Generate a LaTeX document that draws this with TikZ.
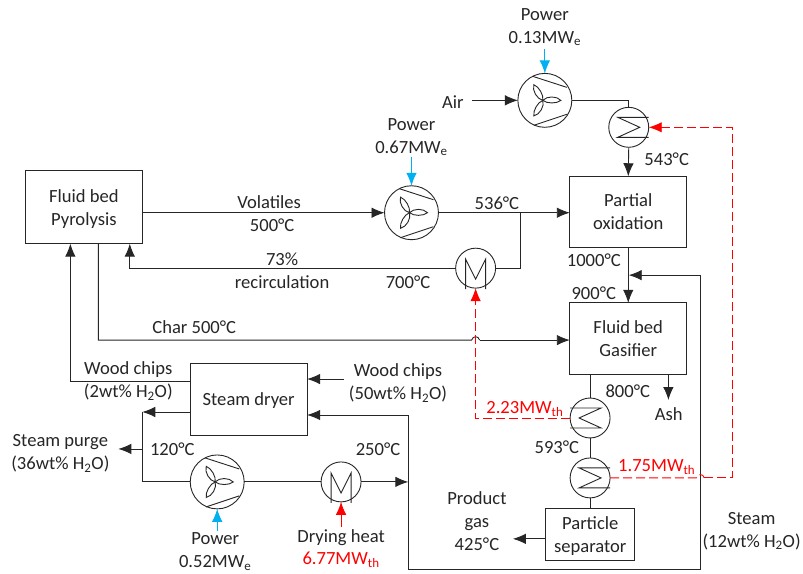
\documentclass[tikz,border=0pt]{standalone}
\usepackage{fontspec}
\setmainfont{Carlito}
\usetikzlibrary{arrows.meta}
\definecolor{pblue}{HTML}{00B0F0}
\newcommand{\ptext}[1]{\raisebox{-2pt}[\height][\depth]{\begin{tabular}{@{}c@{}}#1\end{tabular}}}
\tikzset{
  x=1pt,y=-1pt,
  every path/.style={line width=0.9pt,draw=black!85},
  lab/.style={inner sep=0pt,outer sep=0pt,align=center,yshift=-1.3pt,font=\fontsize{18.6}{23}\selectfont,text=black!85},
  redlab/.style={lab,text=red},
  proc/.style={draw,rectangle,inner sep=0pt,outer sep=0pt,font=\fontsize{18.6}{23}\selectfont,text=black!85},
  sym/.style={draw,circle,inner sep=0pt,outer sep=0pt},
  comp/.style={sym,minimum size=54pt},
  hx/.style={sym,minimum size=40pt},
  ar/.style={-{Latex[length=13pt,width=10.5pt]}},
  blueline/.style={ar,draw=pblue,color=pblue},
  redline/.style={ar,draw=red,color=red},
  reddash/.style={ar,draw=red,color=red,dash pattern=on 9pt off 4pt},
  reddashplain/.style={draw=red,dash pattern=on 9pt off 4pt},
}
\newcommand{\fanmark}[1]{%
  \begin{scope}[shift={(#1.center)}]
    \draw (-12,-24) -- (22,-13);
    \draw (-11,25) -- (22,14);
    \foreach \r in {0,120,240}{
      \draw[rotate around={\r:(-2,0)}] (-2,0) .. controls (2,-4.5) and (12,-4.5) .. (16,0) .. controls (12,3.5) and (2,3.5) .. (-2,0);
    }
  \end{scope}}
\newcommand{\mmark}[1]{%
  \begin{scope}[shift={(#1.center)}]
    \draw (-10,21) -- (-10,-9) -- (0,11) -- (10,-9) -- (10,21);
  \end{scope}}
\newcommand{\sumright}[1]{%
  \begin{scope}[shift={(#1.center)}]
    \draw (20,-10) -- (-11,-10) -- (11,0) -- (-11,10) -- (20,10);
  \end{scope}}
\newcommand{\sumleft}[1]{%
  \begin{scope}[shift={(#1.center)}]
    \draw (-20,-10) -- (11,-10) -- (-11,0) -- (11,10) -- (-20,10);
  \end{scope}}
\begin{document}
\begin{tikzpicture}
\useasboundingbox (0,0) rectangle (803,573);
\fill[white] (0,0) rectangle (803,573);
% process boxes
\node[proc,minimum width=117pt,minimum height=73pt] (pyro) at (83.5,207) {\ptext{Fluid bed\\Pyrolysis}};
\node[proc,minimum width=117pt,minimum height=71pt] (pox) at (628.5,211.5) {\ptext{Partial\\oxidation}};
\node[proc,minimum width=117pt,minimum height=71.5pt] (gas) at (628.5,338.5) {\ptext{Fluid bed\\Gasifier}};
\node[proc,minimum width=89pt,minimum height=52pt] (sep) at (590.5,535) {\ptext{Particle\\separator}};
\node[proc,minimum width=117pt,minimum height=72pt] (dry) at (248.5,399) {\ptext{Steam dryer}};
% machines
\node[comp] (c1) at (545,100) {};
\node[comp] (c2) at (411.5,212.5) {};
\node[comp] (c3) at (217,482) {};
\node[hx] (h1) at (629,127) {};
\node[hx] (h2) at (475.7,268) {};
\node[hx] (h3) at (341,482) {};
\node[hx] (h4) at (590.3,418) {};
\node[hx] (h5) at (590.3,478) {};
\fanmark{c1}\fanmark{c2}\fanmark{c3}
\mmark{h2}\mmark{h3}
\sumright{h1}\sumright{h5}\sumleft{h4}
% free ends and corners
\coordinate (airs) at (472,100);
\coordinate (b1) at (545,49);
\coordinate (b2) at (411.5,157);
\coordinate (b3) at (217,531);
\coordinate (r3) at (341,527);
\coordinate (j1) at (521,212.5);
\coordinate (j1b) at (521,268);
\coordinate (k1) at (129.5,268);
\coordinate (k2) at (129.5,243.5);
\coordinate (w1) at (190,381);
\coordinate (w2) at (70,381);
\coordinate (w3) at (70,243.5);
\coordinate (ch1) at (98,243.5);
\coordinate (ch2) at (98,340);
\coordinate (ch3) at (471.7,340);
\coordinate (ch4) at (479.7,340);
\coordinate (ch5) at (570,340);
\coordinate (ws) at (344,379);
\coordinate (wd) at (307,379);
\coordinate (d1) at (190,412);
\coordinate (d2) at (142,412);
\coordinate (d3) at (142,482);
\coordinate (pu1) at (142,449);
\coordinate (pu2) at (118,449);
\coordinate (s1) at (408.3,482);
\coordinate (s2) at (408.3,415);
\coordinate (s3) at (307,415);
\coordinate (s4) at (408.3,570);
\coordinate (s5) at (700.7,570);
\coordinate (s6) at (700.7,275);
\coordinate (s7) at (629,275);
\coordinate (as1) at (668.7,374.2);
\coordinate (as2) at (668.7,400);
\coordinate (pg) at (513,539);
\coordinate (sp) at (546,539);
\coordinate (e1) at (629,100);
\coordinate (r1) at (475.7,418);
\coordinate (r2) at (696.7,478);
\coordinate (r2b) at (704.7,478);
\coordinate (r4) at (733,478);
\coordinate (r5) at (733,127);
% black connectors
\draw[ar] (airs) -- (c1.west);
\draw (c1.east) -- (e1) -- (h1.north);
\draw[ar] (h1.south) -- (pox.north);
\draw[ar] (pyro.east |- c2.west) -- (c2.west);
\draw[ar] (c2.east) -- (pox.west |- c2.east);
\draw (j1) -- (j1b) -- (h2.east);
\draw[ar] (h2.west) -- (k1) -- (k2);
\draw[ar] (pox.south) -- (gas.north);
\draw[ar] (w1) -- (w2) -- (w3);
\draw (ch1) -- (ch2) -- (ch3) .. controls (473,335.5) and (478.4,335.5) .. (ch4);
\draw[ar] (ch4) -- (ch5);
\draw[ar] (ws) -- (wd);
\draw[ar] (d1) -- (d2);
\draw (d2) -- (d3) -- (c3.west);
\draw[ar] (pu1) -- (pu2);
\draw (c3.east) -- (h3.west);
\draw[ar] (h3.east) -- (s1);
\draw[ar] (s4) -- (s2) -- (s3);
\draw[ar] (s4) -- (s5) -- (s6) -- (s7);
\draw (gas.south -| h4.north) -- (h4.north);
\draw (h4.south) -- (h5.north);
\draw (h5.south) -- (sep.north -| h5.south);
\draw[ar] (as1) -- (as2);
\draw[ar] (sp) -- (pg);
% power
\draw[blueline] (b1) -- (c1.north);
\draw[blueline] (b2) -- (c2.north);
\draw[blueline] (b3) -- (c3.south);
% heat
\draw[redline] (r3) -- (h3.south);
\draw[reddash] (h4.west) -- (r1) -- (h2.south);
\draw[reddashplain] (h5.east) -- (r2) .. controls (698,473.5) and (703.4,473.5) .. (r2b);
\draw[reddash] (r2b) -- (r4) -- (r5) -- (h1.east);
% labels
\node[lab] (t1) at (545,25.5) {Power\\0.13MW\textsubscript{e}};
\node[lab] (t2) at (453,100) {Air};
\node[lab] (t3) at (667,158) {543°C};
\node[lab] (t4) at (411.5,135.5) {Power\\0.67MW\textsubscript{e}};
\node[lab] (t5) at (497,202) {536°C};
\node[lab] (t6) at (594,259) {1000°C};
\node[lab] (t7) at (594,292) {900°C};
\node[lab] (t8) at (628,390) {800°C};
\node[lab] (t9) at (669,413) {Ash};
\node[redlab] (t10) at (525,408) {2.23MW\textsubscript{th}};
\node[lab] (t11) at (557,446) {593°C};
\node[redlab] (t12) at (657,466) {1.75MW\textsubscript{th}};
\node[lab] (t13) at (477,519.5) {Product\\gas\\425°C};
\node[lab] (t14) at (752,530) {Steam\\(12wt\% H\textsubscript{2}O)};
\node[lab] (t15) at (269,201) {Volatiles};
\node[lab] (t16) at (272,224) {500°C};
\node[lab] (t17) at (282,269.5) {73\%\\recirculation};
\node[lab] (t18) at (408,281) {700°C};
\node[lab] (t19) at (194,326) {Char 500°C};
\node[lab] (t20) at (128,380) {Wood chips\\(2wt\% H\textsubscript{2}O)};
\node[lab] (t21) at (398,381.5) {Wood chips\\(50wt\% H\textsubscript{2}O)};
\node[lab] (t22) at (60,452) {Steam purge\\(36wt\% H\textsubscript{2}O)};
\node[lab] (t23) at (172,448) {120°C};
\node[lab] (t24) at (378,448) {250°C};
\node[lab] (t25) at (215,550.5) {Power\\0.52MW\textsubscript{e}};
\node[lab] (t26) at (341,536) {Drying heat};
\node[redlab] (t27) at (341,559) {6.77MW\textsubscript{th}};
\end{tikzpicture}
\end{document}
